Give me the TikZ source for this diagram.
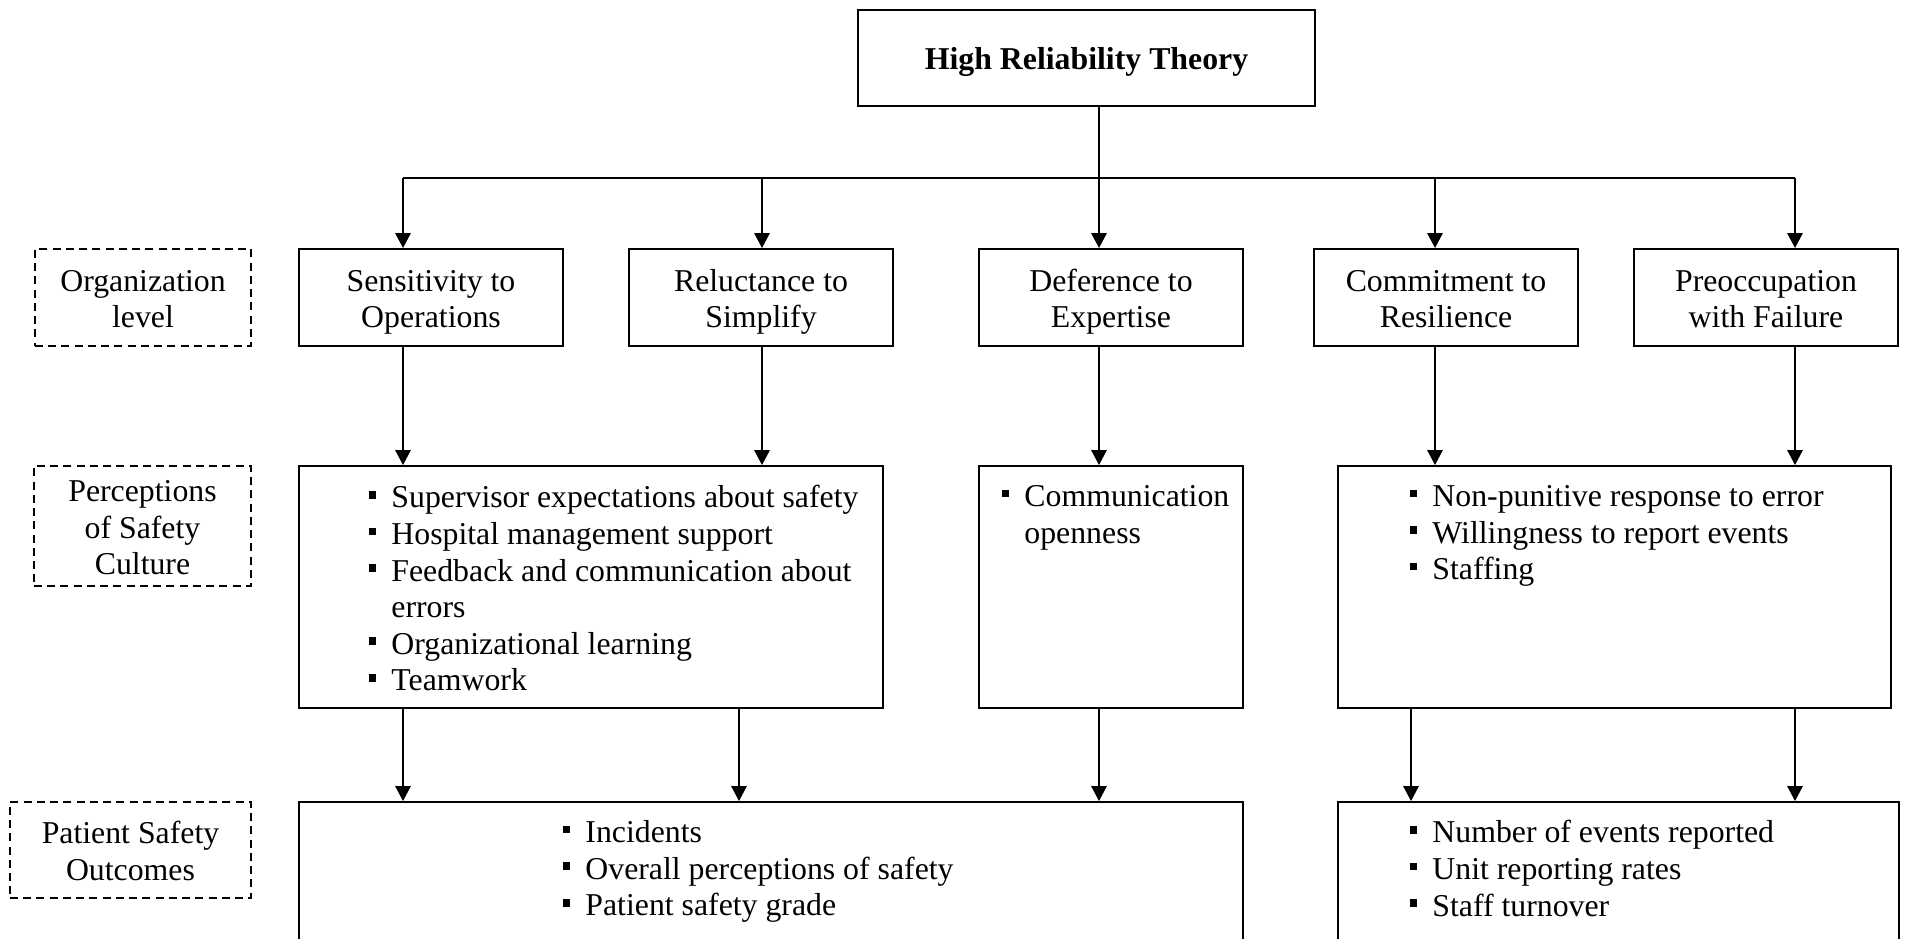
\documentclass[tikz,border=0pt]{standalone}
\usepackage{fontspec}
\setmainfont{Liberation Serif}
\usetikzlibrary{arrows.meta, positioning}
\newcommand{\pxu}{0.3774pt}
\newcommand{\blt}{\makebox[0.72em][l]{\rule[0.29em]{0.25em}{0.24em}}}
\newcommand{\bltgap}{\hspace*{0.72em}}
\newcommand{\tstrut}{\rule{0pt}{12pt}}
\newcommand{\bstrut}{\rule[-2.9pt]{0pt}{2.9pt}}
\tikzstyle{box} = [draw, line width=0.75pt, inner sep=0pt, align=center, font=\fontsize{12}{13.8}\selectfont]
\tikzstyle{lvl} = [box, dashed, line width=0.6pt, dash pattern=on 3pt off 2pt]
\tikzstyle{arrow} = [line width=0.6pt, -{Triangle[length=5.6pt, width=5.8pt]}]
\tikzstyle{listtxt} = [anchor=north west, inner sep=0pt, align=left, font=\fontsize{12}{13.8}\selectfont]
\tikzset{sz/.style 2 args={minimum width=#1*\pxu, minimum height=#2*\pxu}}

\begin{document}
\begin{tikzpicture}[x=\pxu, y=-\pxu]
    \clip (0,0) rectangle (1906,939);
    % theory
    \node[box, sz={457}{96}, font=\bfseries\fontsize{12}{13.8}\selectfont, execute at begin node=\rule{0pt}{11pt}] (hrt) at (1086.5,58) {High Reliability Theory};
    % organization level
    \node[box, sz={264}{97}] (sens) at (431,297.5) {\tstrut Sensitivity to\\Operations\bstrut};
    \node[box, sz={264}{97}] (relu) at (761,297.5) {\tstrut Reluctance to\\Simplify\bstrut};
    \node[box, sz={264}{97}] (defer) at (1111,297.5) {\tstrut Deference to\\Expertise\bstrut};
    \node[box, sz={264}{97}] (commit) at (1446,297.5) {\tstrut Commitment to\\Resilience\bstrut};
    \node[box, sz={264}{97}] (preocc) at (1766,297.5) {\tstrut Preoccupation\\with Failure\bstrut};
    % safety culture
    \node[box, sz={584}{242}] (percA) at (591,587) {};
    \node[box, sz={264}{242}] (percB) at (1111,587) {};
    \node[box, sz={553}{242}] (percC) at (1614.5,587) {};
    % outcomes
    \node[box, sz={944}{200}] (outA) at (771,902) {};
    \node[box, sz={561}{200}] (outB) at (1618.5,902) {};
    % level labels
    \node[lvl, sz={216}{97}] (lvlOrg) at (143,297.5) {\tstrut Organization\\level\bstrut};
    \node[lvl, sz={217}{120}] (lvlPerc) at (142.5,526) {\tstrut Perceptions\\of Safety\\Culture\bstrut};
    \node[lvl, sz={241}{96}] (lvlOut) at (130.5,850) {\tstrut Patient Safety\\Outcomes\bstrut};
    % lists
    \node[listtxt] (percAtxt) at (368,485) {\blt Supervisor expectations about safety\\
        \blt Hospital management support\\
        \blt Feedback and communication about\\
        \bltgap errors\\
        \blt Organizational learning\\
        \blt Teamwork};
    \node[listtxt] (percBtxt) at (1001,485) {\blt Communication\\
        \bltgap openness};
    \node[listtxt] (percCtxt) at (1409,485) {\blt Non-punitive response to error\\
        \blt Willingness to report events\\
        \blt Staffing};
    \node[listtxt] (outAtxt) at (562,820) {\blt Incidents\\
        \blt Overall perceptions of safety\\
        \blt Patient safety grade};
    \node[listtxt] (outBtxt) at (1409,820) {\blt Number of events reported\\
        \blt Unit reporting rates\\
        \blt Staff turnover};
    % connectors
    \coordinate (c1) at (403,178);
    \coordinate (c2) at (762,178);
    \coordinate (c2b) at (739,178);
    \coordinate (c3) at (1099,178);
    \coordinate (c4) at (1435,178);
    \coordinate (c4b) at (1411,178);
    \coordinate (c5) at (1795,178);
    \draw[line width=0.6pt] (c3 |- hrt.south) -- (c3);
    \draw[line width=0.6pt] (c1) -- (c5);
    \draw[arrow] (c1) -- (c1 |- sens.north);
    \draw[arrow] (c2) -- (c2 |- relu.north);
    \draw[arrow] (c3) -- (c3 |- defer.north);
    \draw[arrow] (c4) -- (c4 |- commit.north);
    \draw[arrow] (c5) -- (c5 |- preocc.north);
    \draw[arrow] (c1 |- sens.south) -- (c1 |- percA.north);
    \draw[arrow] (c2 |- relu.south) -- (c2 |- percA.north);
    \draw[arrow] (c3 |- defer.south) -- (c3 |- percB.north);
    \draw[arrow] (c4 |- commit.south) -- (c4 |- percC.north);
    \draw[arrow] (c5 |- preocc.south) -- (c5 |- percC.north);
    \draw[arrow] (c1 |- percA.south) -- (c1 |- outA.north);
    \draw[arrow] (c2b |- percA.south) -- (c2b |- outA.north);
    \draw[arrow] (c3 |- percB.south) -- (c3 |- outA.north);
    \draw[arrow] (c4b |- percC.south) -- (c4b |- outB.north);
    \draw[arrow] (c5 |- percC.south) -- (c5 |- outB.north);
\end{tikzpicture}
\end{document}
